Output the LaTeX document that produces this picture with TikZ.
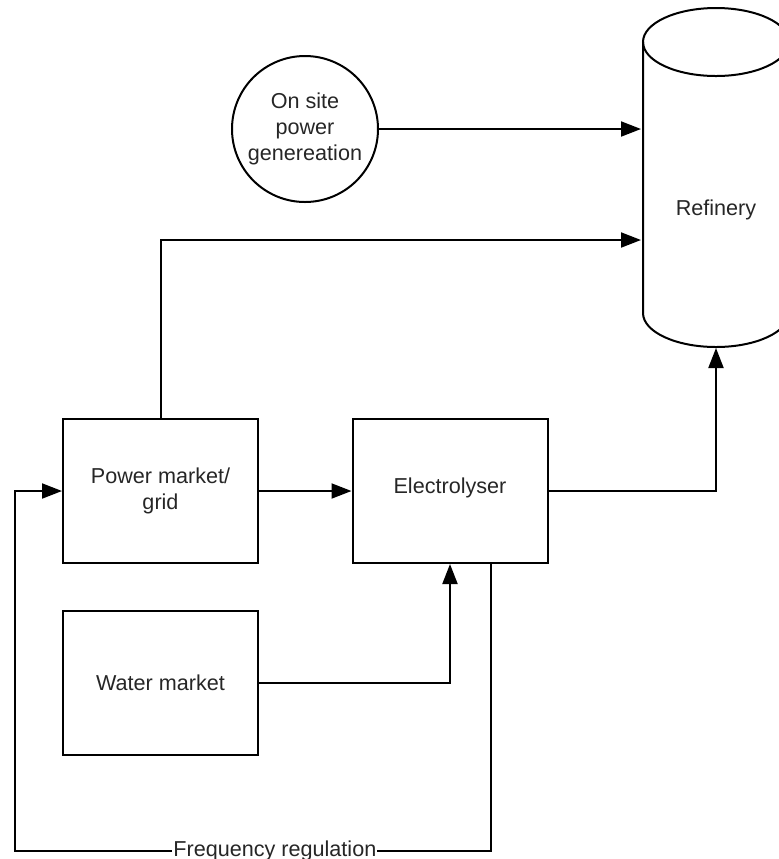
\documentclass[tikz,border=0pt]{standalone}
\usepackage{fontspec}
\setmainfont{Liberation Sans}
\usetikzlibrary{arrows.meta,calc}
\begin{document}
\begin{tikzpicture}[x=0.5pt,y=-0.5pt,
  font=\fontsize{10.8}{13}\selectfont,
  line width=1pt,
  box/.style={draw,minimum width=97.5pt,minimum height=72pt,inner sep=0pt,align=center,text=black!85},
  roundnode/.style={draw,circle,minimum size=73pt,inner sep=0pt,align=center,text=black!85},
  arr/.style={-{Triangle[length=10pt,width=7.5pt]}},
  lbl/.style={text=black!85,inner sep=0pt}]
\useasboundingbox (0,0) rectangle (779,859);
% refinery cylinder
\draw (716,42) ellipse [x radius=73, y radius=34];
\draw (643,42) -- (643,313) arc[start angle=180, end angle=0, x radius=73, y radius=34] -- (789,42);
\node[lbl] (ref) at (716,210) {Refinery};
\coordinate (refW) at (641,200);
\coordinate (refB) at (716,348);
% nodes
\node[roundnode] (gen) at (305,129) {On site\\power\\genereation};
\node[box] (grid) at (160.5,491) {Power market/\\grid};
\node[box,text depth=0pt,text height=0pt,inner sep=0pt] (ely) at (450,491) {};
\node[lbl] (elytext) at (450,488) {Electrolyser};
\node[box] (water) at (160.5,682.5) {Water market};
\coordinate (fbtop) at (491,563);
\coordinate (fbr) at (491,851);
\coordinate (fbl) at (15,851);
\coordinate (gridturn) at (160.5,240);
% connectors
\draw[arr] (gen.east) -- (gen.east -| refW);
\draw[arr] (grid.north) -- (gridturn) -- (gridturn -| refW);
\draw[arr] (grid.east) -- (ely.west);
\draw[arr] (ely.east) -| (refB);
\draw[arr] (water.east) -| (ely.south);
\draw[arr] (fbtop) -- (fbr) -- node[pos=0.454,fill=white,lbl,inner xsep=0.5pt,inner ysep=1pt]{Frequency regulation} (fbl) |- (grid.west);
\end{tikzpicture}
\end{document}
